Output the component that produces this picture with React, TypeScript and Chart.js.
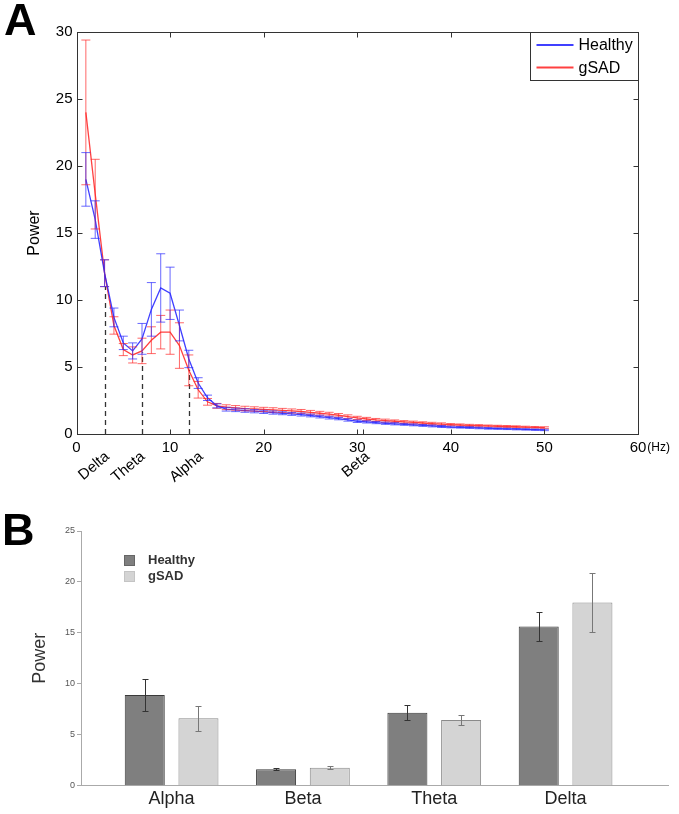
import React, { useEffect, useRef } from 'react';
import { Chart, registerables } from 'chart.js';

Chart.register(...registerables);

const FONT = "'Liberation Sans', Arial, Helvetica, sans-serif";

// ---------- Panel A data ----------
const freqHz = [
  1, 2, 3, 4, 5, 6, 7, 8, 9, 10,
  11, 12, 13, 14, 15, 16, 17, 18, 19, 20,
  21, 22, 23, 24, 25, 26, 27, 28, 29, 30,
  31, 32, 33, 34, 35, 36, 37, 38, 39, 40,
  41, 42, 43, 44, 45, 46, 47, 48, 49, 50,
];
const healthyPower = [
  19.0, 16.0, 12.0, 8.7, 6.8, 6.2, 7.1, 9.3, 10.9, 10.5,
  8.1, 5.6, 3.8, 2.7, 2.1, 1.85, 1.8, 1.75, 1.7, 1.65,
  1.6, 1.55, 1.5, 1.45, 1.38, 1.3, 1.22, 1.15, 1.05, 0.95,
  0.9, 0.85, 0.8, 0.76, 0.72, 0.68, 0.64, 0.6, 0.56, 0.52,
  0.5, 0.48, 0.45, 0.42, 0.4, 0.38, 0.36, 0.34, 0.32, 0.3,
];
const healthyErr = [
  2.0, 1.4, 1.0, 0.7, 0.5, 0.6, 1.15, 2.0, 2.55, 1.95,
  1.15, 0.65, 0.4, 0.2, 0.15, 0.14, 0.13, 0.13, 0.12, 0.12,
  0.12, 0.11, 0.11, 0.11, 0.1, 0.1, 0.1, 0.09, 0.09, 0.09,
  0.08, 0.08, 0.08, 0.08, 0.07, 0.07, 0.07, 0.07, 0.07, 0.06,
  0.06, 0.06, 0.06, 0.06, 0.05, 0.05, 0.05, 0.05, 0.05, 0.05,
];
const gsadPower = [
  24.0, 17.9, 12.0, 8.1, 6.3, 5.9, 6.2, 7.0, 7.6, 7.6,
  6.6, 4.75, 3.3, 2.4, 2.1, 2.0, 1.95, 1.9, 1.87, 1.83,
  1.8, 1.76, 1.72, 1.68, 1.62, 1.55, 1.48, 1.4, 1.3, 1.2,
  1.12, 1.05, 1.0, 0.95, 0.9, 0.86, 0.82, 0.78, 0.74, 0.7,
  0.67, 0.64, 0.62, 0.6, 0.58, 0.56, 0.54, 0.52, 0.5, 0.48,
];
const gsadErr = [
  5.4, 2.6, 1.0, 0.65, 0.45, 0.6, 0.95, 1.0, 1.25, 1.65,
  1.7, 1.15, 0.62, 0.25, 0.18, 0.18, 0.17, 0.17, 0.16, 0.16,
  0.16, 0.15, 0.15, 0.15, 0.14, 0.14, 0.14, 0.13, 0.13, 0.12,
  0.12, 0.11, 0.11, 0.1, 0.1, 0.1, 0.09, 0.09, 0.09, 0.08,
  0.08, 0.08, 0.08, 0.07, 0.07, 0.07, 0.07, 0.06, 0.06, 0.06,
];
const bandEdgesHz = [3, 7, 12];
const bandEdgeTops = [11.0, 6.1, 4.8];
const bandNames = ['Delta', 'Theta', 'Alpha', 'Beta'];
const bandLabelHz = [2.8, 6.6, 12.8, 30.6];
const xTicksA = [0, 10, 20, 30, 40, 50, 60];
const yTicksA = [0, 5, 10, 15, 20, 25, 30];
const seriesNames = ['Healthy', 'gSAD'];

// ---------- Panel B data ----------
const bandCats = ['Alpha', 'Beta', 'Theta', 'Delta'];
const bandCatPos = [1, 2, 3, 4];
const barHealthy = [8.9, 1.61, 7.17, 15.62];
const barHealthyErr = [1.55, 0.1, 0.72, 1.45];
const barGsad = [6.62, 1.77, 6.45, 17.98];
const barGsadErr = [1.23, 0.12, 0.52, 2.87];
const yTicksB = [0, 5, 10, 15, 20, 25];

const BLUE = 'rgba(30,30,255,0.85)';
const RED = 'rgba(255,30,30,0.85)';

function SpectrumChart() {
  const ref = useRef<HTMLCanvasElement>(null);
  useEffect(() => {
    const plugin = {
      id: 'panelA',
      beforeDatasetsDraw(chart: any) {
        const { ctx, scales } = chart;
        const x = scales.x, y = scales.y;
        ctx.save();
        ctx.strokeStyle = '#333';
        ctx.lineWidth = 1.3;
        ctx.setLineDash([5, 4]);
        bandEdgesHz.forEach((h, i) => {
          const px = Math.round(x.getPixelForValue(h)) + 0.5;
          ctx.beginPath();
          ctx.moveTo(px, y.getPixelForValue(0));
          ctx.lineTo(px, y.getPixelForValue(bandEdgeTops[i]));
          ctx.stroke();
        });
        ctx.restore();
      },
      afterDatasetsDraw(chart: any) {
        const { ctx, scales } = chart;
        const x = scales.x, y = scales.y;
        const sets: [number[], number[], string][] = [
          [gsadPower, gsadErr, 'rgba(255,40,40,0.7)'],
          [healthyPower, healthyErr, 'rgba(40,40,255,0.7)'],
        ];
        ctx.save();
        ctx.lineWidth = 1;
        sets.forEach(([vals, errs, col]) => {
          ctx.strokeStyle = col;
          vals.forEach((v, i) => {
            const px = x.getPixelForValue(freqHz[i]);
            const yt = y.getPixelForValue(v + errs[i]);
            const yb = y.getPixelForValue(v - errs[i]);
            ctx.beginPath();
            ctx.moveTo(px, yt);
            ctx.lineTo(px, yb);
            ctx.moveTo(px - 4.5, yt);
            ctx.lineTo(px + 4.5, yt);
            ctx.moveTo(px - 4.5, yb);
            ctx.lineTo(px + 4.5, yb);
            ctx.stroke();
          });
        });
        ctx.restore();
      },
      afterDraw(chart: any) {
        const { ctx, chartArea, scales } = chart;
        const x = scales.x, y = scales.y;
        const L = Math.round(chartArea.left) + 0.5;
        const R = Math.round(chartArea.right) + 0.5;
        const T = Math.round(chartArea.top) + 0.5;
        const B = Math.round(chartArea.bottom) + 0.5;
        ctx.save();
        ctx.strokeStyle = '#333';
        ctx.lineWidth = 1;
        ctx.strokeRect(L, T, R - L, B - T);
        ctx.beginPath();
        xTicksA.concat(bandLabelHz.slice(3)).forEach((v) => {
          const px = Math.round(x.getPixelForValue(v)) + 0.5;
          ctx.moveTo(px, B); ctx.lineTo(px, B - 5);
          if (xTicksA.includes(v)) { ctx.moveTo(px, T); ctx.lineTo(px, T + 5); }
        });
        yTicksA.forEach((v) => {
          const py = Math.round(y.getPixelForValue(v)) + 0.5;
          ctx.moveTo(L, py); ctx.lineTo(L + 5, py);
          ctx.moveTo(R, py); ctx.lineTo(R - 5, py);
        });
        ctx.stroke();

        // band labels (rotated)
        ctx.fillStyle = '#000';
        ctx.font = `15px ${FONT}`;
        ctx.textAlign = 'right';
        ctx.textBaseline = 'top';
        bandNames.forEach((n, i) => {
          const px = x.getPixelForValue(bandLabelHz[i]);
          ctx.save();
          ctx.translate(px, chartArea.bottom + 15);
          ctx.rotate((-40 * Math.PI) / 180);
          ctx.fillText(n, 0, 0);
          ctx.restore();
        });

        // (Hz) unit
        const w60 = ctx.measureText('60').width;
        ctx.font = `12px ${FONT}`;
        ctx.textAlign = 'left';
        ctx.textBaseline = 'middle';
        ctx.fillText('(Hz)', x.getPixelForValue(60) + w60 / 2 + 1, chartArea.bottom + 14);

        // legend
        const lw = 108, lh = 48;
        const lx = Math.round(chartArea.right - lw) + 0.5;
        const ly = T;
        ctx.fillStyle = '#fff';
        ctx.fillRect(lx, ly, lw, lh);
        ctx.strokeStyle = '#333';
        ctx.strokeRect(lx, ly, lw, lh);
        const cols = [BLUE, RED];
        ctx.font = `16px ${FONT}`;
        seriesNames.forEach((n, i) => {
          const yy = ly + 12.5 + i * 22.5;
          ctx.strokeStyle = cols[i];
          ctx.lineWidth = 2;
          ctx.beginPath();
          ctx.moveTo(lx + 6, yy);
          ctx.lineTo(lx + 43, yy);
          ctx.stroke();
          ctx.fillStyle = '#000';
          ctx.textBaseline = 'middle';
          ctx.fillText(n, lx + 48, yy + 1);
        });

        // panel letter
        ctx.font = `bold 45px ${FONT}`;
        ctx.fillStyle = '#000';
        ctx.textBaseline = 'alphabetic';
        ctx.textAlign = 'left';
        ctx.fillText('A', 4, 35);
        ctx.restore();
      },
    };

    const chart = new Chart(ref.current as HTMLCanvasElement, {
      type: 'line',
      data: {
        datasets: [
          {
            label: seriesNames[0],
            data: freqHz.map((f, i) => ({ x: f, y: healthyPower[i] })),
            borderColor: BLUE,
            borderWidth: 1.3,
            pointRadius: 0,
            tension: 0,
            fill: false,
          },
          {
            label: seriesNames[1],
            data: freqHz.map((f, i) => ({ x: f, y: gsadPower[i] })),
            borderColor: RED,
            borderWidth: 1.3,
            pointRadius: 0,
            tension: 0,
            fill: false,
          },
        ],
      },
      options: {
        animation: false,
        responsive: false,
        maintainAspectRatio: false,
        layout: { padding: { top: 32, right: 41, left: 0, bottom: 0 } },
        plugins: { legend: { display: false }, tooltip: { enabled: false } },
        scales: {
          x: {
            type: 'linear',
            min: 0,
            max: 60,
            afterBuildTicks: (s: any) => { s.ticks = xTicksA.map((v) => ({ value: v })); },
            afterFit: (s: any) => { s.height = 66; },
            grid: { display: false, drawTicks: false },
            border: { display: false },
            ticks: { font: { family: FONT, size: 15 }, color: '#000', padding: 5, maxRotation: 0 },
          },
          y: {
            type: 'linear',
            min: 0,
            max: 30,
            afterBuildTicks: (s: any) => { s.ticks = yTicksA.map((v) => ({ value: v })); },
            afterFit: (s: any) => { s.width = 76.5; },
            grid: { display: false, drawTicks: false },
            border: { display: false },
            ticks: { font: { family: FONT, size: 15 }, color: '#000', padding: 4 },
            title: {
              display: true,
              text: 'Power',
              font: { family: FONT, size: 16 },
              color: '#000',
              padding: { top: 25, bottom: 0 },
            },
          },
        },
      },
      plugins: [plugin],
    } as any);
    return () => chart.destroy();
  }, []);
  return (
    <canvas
      ref={ref}
      width={679}
      height={500}
      style={{ position: 'absolute', left: 0, top: 0, width: 679, height: 500 }}
    />
  );
}

function BandBarChart() {
  const ref = useRef<HTMLCanvasElement>(null);
  useEffect(() => {
    const plugin = {
      id: 'panelB',
      afterDatasetsDraw(chart: any) {
        const { ctx, scales } = chart;
        const y = scales.y;
        const specs: [number, number[], number[], string][] = [
          [0, barHealthy, barHealthyErr, '#333'],
          [1, barGsad, barGsadErr, '#777'],
        ];
        ctx.save();
        ctx.lineWidth = 1;
        specs.forEach(([di, vals, errs, col]) => {
          const meta = chart.getDatasetMeta(di);
          ctx.strokeStyle = col;
          vals.forEach((v, i) => {
            const px = Math.round(meta.data[i].x) + 0.5;
            const yt = Math.round(y.getPixelForValue(v + errs[i])) + 0.5;
            const yb = Math.round(y.getPixelForValue(v - errs[i])) + 0.5;
            ctx.beginPath();
            ctx.moveTo(px, yt); ctx.lineTo(px, yb);
            ctx.moveTo(px - 3, yt); ctx.lineTo(px + 3, yt);
            ctx.moveTo(px - 3, yb); ctx.lineTo(px + 3, yb);
            ctx.stroke();
          });
        });
        ctx.restore();
      },
      afterDraw(chart: any) {
        const { ctx } = chart;
        ctx.save();
        const fills = ['#7f7f7f', '#d4d4d4'];
        const strokes = ['#666', '#c4c4c4'];
        seriesNames.forEach((n, i) => {
          const sy = 55 + i * 16;
          ctx.fillStyle = fills[i];
          ctx.fillRect(124, sy, 11, 11);
          ctx.strokeStyle = strokes[i];
          ctx.strokeRect(124.5, sy + 0.5, 10, 10);
          ctx.fillStyle = '#333';
          ctx.font = `bold 13px ${FONT}`;
          ctx.textAlign = 'left';
          ctx.textBaseline = 'middle';
          ctx.fillText(n, 148, sy + 5.5);
        });
        ctx.font = `bold 45px ${FONT}`;
        ctx.fillStyle = '#000';
        ctx.textBaseline = 'alphabetic';
        ctx.fillText('B', 2, 45);
        ctx.restore();
      },
    };

    const chart = new Chart(ref.current as HTMLCanvasElement, {
      type: 'bar',
      data: {
        datasets: [
          {
            label: seriesNames[0],
            data: bandCatPos.map((p, i) => ({ x: p, y: barHealthy[i] })),
            backgroundColor: '#7f7f7f',
            borderColor: '#3a3a3a',
            borderWidth: 1,
            categoryPercentage: 0.818,
            barPercentage: 0.745,
          },
          {
            label: seriesNames[1],
            data: bandCatPos.map((p, i) => ({ x: p, y: barGsad[i] })),
            backgroundColor: '#d4d4d4',
            borderColor: '#8a8a8a',
            borderWidth: 1,
            categoryPercentage: 0.818,
            barPercentage: 0.745,
          },
        ],
      },
      options: {
        animation: false,
        responsive: false,
        maintainAspectRatio: false,
        layout: { padding: { top: 31, right: 11, left: 0, bottom: 0 } },
        plugins: { legend: { display: false }, tooltip: { enabled: false } },
        scales: {
          x: {
            type: 'linear',
            offset: false,
            min: 0.31,
            max: 4.78,
            afterBuildTicks: (s: any) => { s.ticks = bandCatPos.map((v) => ({ value: v })); },
            afterFit: (s: any) => { s.height = 28.3; },
            grid: { display: false, drawTicks: false, offset: false },
            border: { display: true, color: '#aaa', width: 1 },
            ticks: {
              font: { family: FONT, size: 18 },
              color: '#222',
              padding: 3,
              maxRotation: 0,
              autoSkip: false,
              callback: (v: any) => bandCats[bandCatPos.indexOf(Number(v))] ?? '',
            },
          },
          y: {
            type: 'linear',
            min: 0,
            max: 25,
            afterBuildTicks: (s: any) => { s.ticks = yTicksB.map((v) => ({ value: v })); },
            afterFit: (s: any) => { s.width = 81; },
            grid: { display: true, drawOnChartArea: false, drawTicks: true, tickLength: 4, color: '#aaa' },
            border: { display: true, color: '#aaa', width: 1 },
            ticks: { font: { family: FONT, size: 9 }, color: '#555', padding: 2 },
            title: {
              display: true,
              text: 'Power',
              font: { family: FONT, size: 18 },
              color: '#333',
              padding: { top: 29, bottom: 0 },
            },
          },
        },
      },
      plugins: [plugin],
    } as any);
    return () => chart.destroy();
  }, []);
  return (
    <canvas
      ref={ref}
      width={679}
      height={314}
      style={{ position: 'absolute', left: 0, top: 500, width: 679, height: 314 }}
    />
  );
}

export default function App() {
  return (
    <div style={{ position: 'absolute', left: 0, top: 0, width: 679, height: 814, background: '#fff' }}>
      <SpectrumChart />
      <BandBarChart />
    </div>
  );
}
